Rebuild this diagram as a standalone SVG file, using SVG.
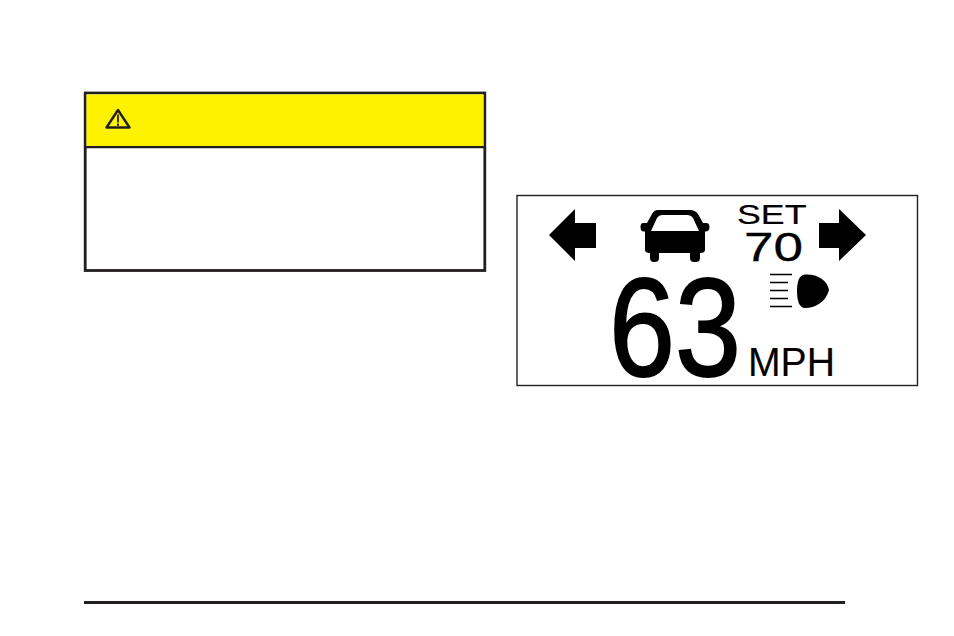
<svg xmlns="http://www.w3.org/2000/svg" width="954" height="636" viewBox="0 0 954 636">
<style>
.t{font-family:"Liberation Sans",Arial,sans-serif;fill:#000;stroke:#000}
.g{fill:#000}
.l{stroke:#000;fill:none}
</style>
<rect width="954" height="636" fill="#fff"/>
<g id="caution">
<rect x="85.200" y="93" width="399.600" height="177.500" fill="#fff" stroke="#231f20" stroke-width="2.800"/>
<rect x="86.500" y="94.400" width="397" height="52" fill="#fff200"/>
<path d="M85 147.200H485" stroke="#231f20" stroke-width="2.200"/>
<path d="M118 110L106.500 127.500H129.500Z" fill="none" stroke="#231f20" stroke-width="2.400" stroke-linejoin="round"/>
<path d="M118 114.500V122.500M118 123.500V126" stroke="#231f20" stroke-width="1.800"/>
</g>
<g id="display">
<rect x="517" y="195.500" width="400.500" height="190" fill="#fff" stroke="#231f20" stroke-width="1.400"/>
<path id="arrow-left" class="g" d="M549 235L575 209V223H596V248H575V261Z"/>
<path id="arrow-right" class="g" d="M866 235L839 209V223H819V248H839V261Z"/>
<path id="car" class="g" fill-rule="evenodd" d="M658 210H690Q695 210 698 214L703 223H706Q709.500 223 709.500 227T706 231.500H705V250Q705 253 700 253V258Q700 262 696 262H694Q690 262 690 258V253H659V258Q659 262 655 262H654Q650 262 650 258V253Q645 253 645 250V231.500H644Q640.500 231.500 640.500 227T644 223H647L652 214Q654 210 658 210ZM662 215Q659 215 657 218L651 231H699L693 218Q691 215 687 215Z"/>
<text class="t" x="737" y="224" font-size="27" stroke-width="0.200" textLength="69.500" lengthAdjust="spacingAndGlyphs">SET</text>
<text class="t" x="744" y="261" font-size="40" stroke-width="0.300" textLength="59" lengthAdjust="spacingAndGlyphs">70</text>
<text class="t" x="609" y="375.500" font-size="139" stroke-width="2" textLength="132" lengthAdjust="spacingAndGlyphs">63</text>
<text class="t" x="748" y="376" font-size="40" stroke-width="0.100" textLength="87" lengthAdjust="spacingAndGlyphs">MPH</text>
<g id="headlamp">
<path class="l" d="M770 274.500H792M770 282.500H788M770 290.500H788M770 298.500H788M770 306.500H792" stroke-width="1.300"/>
<path class="g" d="M805 274.500C818 274 827 280 829 290C826 302 815 308 805 308C799 308 797 300 797 291C797 282 799 275 805 274.500Z"/>
</g>
</g>
<g id="rule"><path d="M84 602.500H845" stroke="#231f20" stroke-width="3"/></g>
</svg>
